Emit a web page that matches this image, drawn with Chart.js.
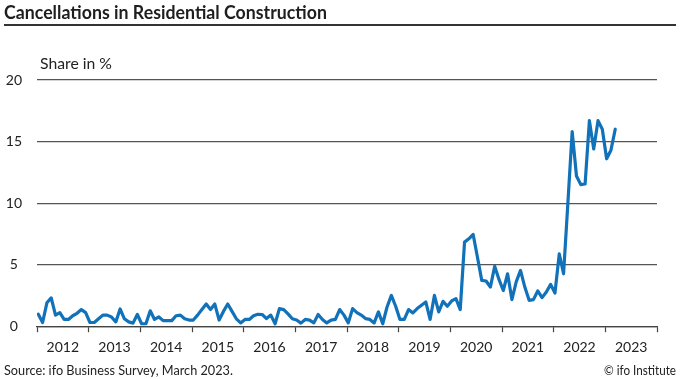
<!DOCTYPE html>
<html><head><meta charset="utf-8">
<script src="https://cdn.jsdelivr.net/npm/chart.js@4/dist/chart.umd.min.js"></script>
<style>
html,body{margin:0;padding:0;background:#fff;}
#wrap{position:relative;width:680px;height:379px;overflow:hidden;font-family:Lato,"Open Sans",sans-serif;color:#222;}
#c{position:absolute;left:0;top:0;}
.t{position:absolute;white-space:nowrap;transform-origin:0 0;line-height:1;}
#title{left:4px;top:3px;font-weight:bold;font-size:18px;color:#1e1e1e;}
#rule{position:absolute;left:4px;top:24px;width:672px;height:2px;background:#333;}
#unit{left:40px;top:56px;font-size:15px;}
#src{left:4px;top:364px;font-size:13px;}
#copy{left:604px;top:364px;font-size:13px;}
</style></head>
<body>
<div id="wrap">
<canvas id="c" width="680" height="379"></canvas>
<div class="t" id="title" data-w="323">Cancellations in Residential Construction</div>
<div id="rule"></div>
<div class="t" id="unit" data-w="72">Share in %</div>
<div class="t" id="src" data-w="229">Source: ifo Business Survey, March 2023.</div>
<div class="t" id="copy" data-w="72">© ifo Institute</div>
</div>
<script>
const years = ['2012','2013','2014','2015','2016','2017','2018','2019','2020','2021','2022','2023'];
const yTicks = [0,5,10,15,20];
// monthly share in %, Jan 2012 .. Mar 2023
const share2012 = [0.97,0.3,1.9,2.3,0.9,1.1,0.55,0.55,0.85,1.05,1.35,1.1];
const share2013 = [0.3,0.3,0.6,0.9,0.9,0.75,0.35,1.4,0.6,0.35,0.25,0.95];
const share2014 = [0.2,0.2,1.25,0.55,0.75,0.45,0.45,0.45,0.85,0.9,0.6,0.5];
const share2015 = [0.5,0.9,1.35,1.8,1.35,1.8,0.5,1.2,1.8,1.2,0.6,0.27];
const share2016 = [0.55,0.55,0.85,0.97,0.95,0.62,0.9,0.2,1.43,1.35,1.0,0.6];
const share2017 = [0.5,0.25,0.55,0.5,0.27,0.95,0.55,0.27,0.5,0.55,1.35,0.9];
const share2018 = [0.27,1.43,1.1,0.9,0.62,0.55,0.27,1.16,0.2,1.56,2.5,1.62];
const share2019 = [0.55,0.55,1.35,1.08,1.43,1.7,1.97,0.55,2.5,1.16,2.02,1.62];
const share2020 = [2.05,2.24,1.35,6.83,7.1,7.45,5.6,3.72,3.67,3.18,4.86,3.8];
const share2021 = [2.9,4.26,2.16,3.6,4.53,3.18,2.1,2.16,2.86,2.32,2.78,3.4];
const share2022 = [2.7,5.88,4.26,10.0,15.8,12.2,11.5,11.55,16.7,14.4,16.7,16.0];
const share2023 = [13.6,14.3,16.0];

const shares = [].concat(share2012,share2013,share2014,share2015,share2016,share2017,
  share2018,share2019,share2020,share2021,share2022,share2023);
const points = shares.map((v,i)=>({x:i+0.3,y:v}));

document.querySelectorAll('[data-w]').forEach(el=>{
  const w = el.getBoundingClientRect().width;
  const s = parseFloat(el.dataset.w)/w;
  el.style.transform = 'scaleX('+s+')';
});

const FONT = {family:'Lato, "Open Sans", sans-serif', size:14};
new Chart(document.getElementById('c'), {
  type:'line',
  data:{datasets:[{data:points,borderColor:'#1172b9',borderWidth:3.2,pointRadius:0,tension:0,
    borderJoinStyle:'round',borderCapStyle:'round',fill:false}]},
  options:{
    responsive:false,animation:false,
    layout:{padding:{left:0,right:23,top:80,bottom:16}},
    plugins:{legend:{display:false},tooltip:{enabled:false},title:{display:false}},
    scales:{
      x:{type:'linear',min:0,max:144,
        afterBuildTicks:s=>{const t=[];for(let v=0;v<=144;v+=6)t.push({value:v});s.ticks=t;},
        ticks:{autoSkip:false,maxRotation:0,minRotation:0,padding:7,font:FONT,color:'#222',
          callback:v=> (v%12===6)? years[(v-6)/12] : ''},
        grid:{drawOnChartArea:false,drawTicks:true,tickLength:6,tickWidth:1.2,
          tickColor:c=> (c.tick && c.tick.value%12===0)?'#444':'rgba(0,0,0,0)'},
        border:{display:true,color:'#444',width:1.2}},
      y:{min:0,max:20,
        afterBuildTicks:s=>{s.ticks=yTicks.map(v=>({value:v}));},
        afterFit:s=>{s.width=37;},
        ticks:{padding:15,crossAlign:'center',font:FONT,color:'#222'},
        grid:{color:'#555',lineWidth:1.2,drawTicks:false},
        border:{display:false}}
    }
  }
});
</script>
</body></html>
